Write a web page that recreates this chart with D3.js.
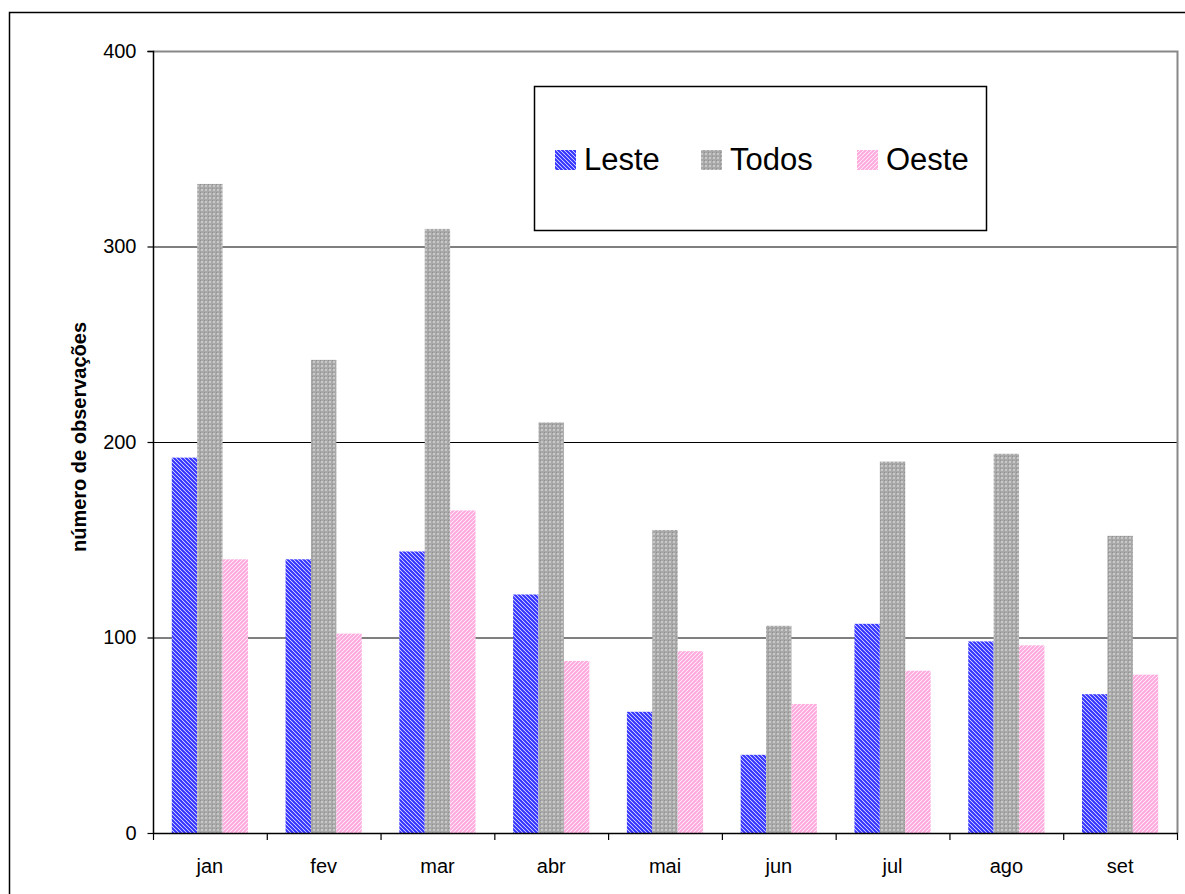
<!DOCTYPE html>
<html><head><meta charset="utf-8">
<script src="https://cdn.jsdelivr.net/npm/d3@7/dist/d3.min.js"></script>
<style>body{margin:0;background:#fff}svg{display:block;font-family:"Liberation Sans",Arial,sans-serif}</style>
</head><body><svg id="c" width="1185" height="894"></svg>
<script>
const months = ["jan","fev","mar","abr","mai","jun","jul","ago","set"];
const seriesNames = ["Leste","Todos","Oeste"];
const leste = [192,140,144,122,62,40,107,98,71];
const todos = [332,242,309,210,155,106,190,194,152];
const oeste = [140,102,165,88,93,66,83,96,81];
const yTicks = [0,100,200,300,400];
const series = [leste, todos, oeste];

const svg = d3.select("#c");
const defs = svg.append("defs");
let p = defs.append("pattern").attr("id","pL").attr("patternUnits","userSpaceOnUse").attr("width",4).attr("height",4);
p.append("rect").attr("width",4).attr("height",4).attr("fill","#ffffff");
p.append("path").attr("d","M-1,-1 L5,5 M-1,3 L1,5 M3,-1 L5,1").attr("stroke","#3333ff").attr("stroke-width",2.2);
p = defs.append("pattern").attr("id","pT").attr("patternUnits","userSpaceOnUse").attr("width",4).attr("height",4);
p.append("rect").attr("width",4).attr("height",4).attr("fill","#a8a8a8");
p.append("rect").attr("x",1).attr("y",1).attr("width",2).attr("height",2).attr("fill","#c8c8c8");
p.append("rect").attr("x",0).attr("y",0).attr("width",1).attr("height",1).attr("fill","#909090");
p = defs.append("pattern").attr("id","pO").attr("patternUnits","userSpaceOnUse").attr("width",4).attr("height",4);
p.append("rect").attr("width",4).attr("height",4).attr("fill","#ffffff");
p.append("path").attr("d","M-1,5 L5,-1 M-1,1 L1,-1 M3,5 L5,3").attr("stroke","#ffaade").attr("stroke-width",2.2);
const fills = ["url(#pL)","url(#pT)","url(#pO)"];

svg.append("rect").attr("x",9.5).attr("y",12.5).attr("width",1300).attr("height",1000)
  .attr("fill","none").attr("stroke","#000").attr("stroke-width",1.5);

const L=153, R=1177, T=51, B=833;
const x = d3.scaleBand().domain(months).range([L,R]);
const xs = d3.scaleBand().domain(seriesNames).range([0, x.bandwidth()]).paddingInner(0).paddingOuter(0.74);
const y = d3.scaleLinear().domain([0,400]).range([B,T]);

svg.append("g").selectAll("line").data(yTicks.filter(d=>d>0&&d<400)).join("line")
  .attr("x1",L).attr("x2",R).attr("y1",d=>y(d)+0.5).attr("y2",d=>y(d)+0.5)
  .attr("stroke","#000").attr("stroke-width",1);
svg.append("path").attr("d",`M${L},${T+0.5}H${R+0.5}V${B}`).attr("fill","none").attr("stroke","#888").attr("stroke-width",2);

months.forEach((m,i)=>{
  series.forEach((s,k)=>{
    svg.append("rect").attr("x",x(m)+xs(seriesNames[k])).attr("width",xs.bandwidth())
      .attr("y",y(s[i])).attr("height",B-y(s[i])).attr("fill",fills[k]);
  });
});

const ya = svg.append("g").attr("transform",`translate(${L+0.5},0)`)
  .call(d3.axisLeft(y).tickValues(yTicks).tickSize(6).tickPadding(11));
ya.attr("font-size",20).attr("font-family","Liberation Sans, Arial, sans-serif");
ya.select(".domain").attr("stroke","#000").attr("stroke-width",1.5).attr("d",`M-6,${T+0.5}H0V${B+0.5}`);
ya.selectAll(".tick line").attr("stroke","#000").attr("stroke-width",1.2);
ya.selectAll("text").style("font-size","20px").attr("fill","#000");

const xa = svg.append("g").attr("transform",`translate(0,${B+0.5})`)
  .call(d3.axisBottom(x).tickSize(0).tickPadding(25));
xa.attr("font-size",20).attr("font-family","Liberation Sans, Arial, sans-serif");
xa.select(".domain").attr("stroke","#000").attr("stroke-width",1.5).attr("d",`M${L},0H${R+1}`);
xa.selectAll("text").style("font-size","20px").attr("fill","#000");
svg.append("g").selectAll("line").data(d3.range(months.length+1)).join("line")
  .attr("x1",d=>L+d*x.step()+0.5).attr("x2",d=>L+d*x.step()+0.5)
  .attr("y1",B).attr("y2",B+7).attr("stroke","#000").attr("stroke-width",1.2);

svg.append("text").attr("transform","translate(86,437) rotate(-90)").attr("text-anchor","middle")
  .style("font-size","20px").attr("font-weight","bold").text("número de observações");

svg.append("rect").attr("x",534.5).attr("y",86.5).attr("width",452).attr("height",144)
  .attr("fill","#fff").attr("stroke","#000").attr("stroke-width",1.5);
const lgX = [555, 701, 857];
seriesNames.forEach((n,k)=>{
  svg.append("rect").attr("x",lgX[k]).attr("y",150).attr("width",21).attr("height",20).attr("fill",fills[k]);
  svg.append("text").attr("x",lgX[k]+29).attr("y",170).style("font-size","31px").text(n);
});
</script></body></html>
